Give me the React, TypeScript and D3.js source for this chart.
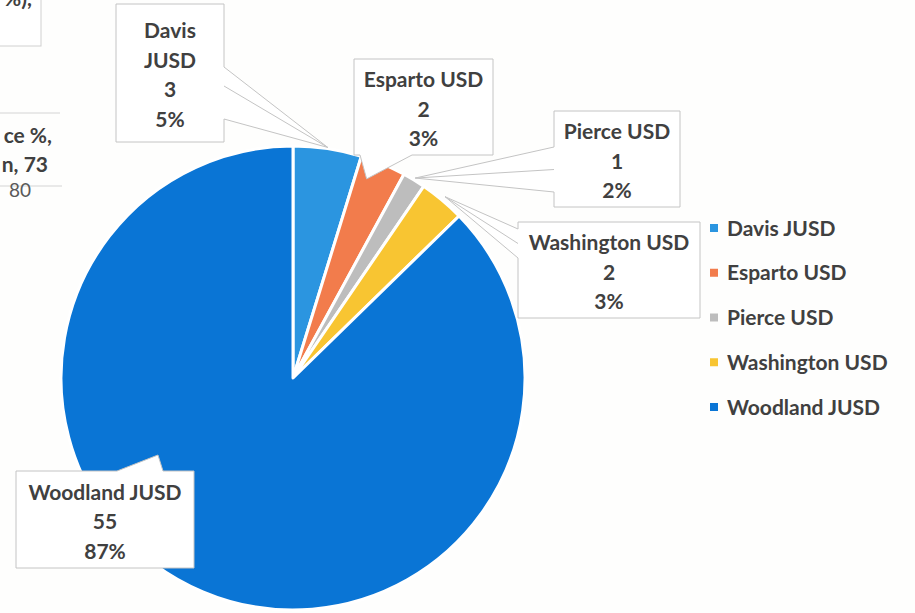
import React from "react";
import * as d3 from "d3";

const districts = ["Davis JUSD", "Esparto USD", "Pierce USD", "Washington USD", "Woodland JUSD"];
const counts = [3, 2, 1, 2, 55];
const sliceColors = ["#2b95e0", "#f27c4c", "#bdbdbd", "#f8c532", "#0a75d5"];

// callout layout: box [x0,y0,x1,y1], wedge side, wedge base [a,b], tip angle offset (deg) & radius factor
type Callout = { box: number[]; side: "left" | "right" | "top" | "bottom"; base: number[]; tipAngle: number | null; tipR: number; wrap: boolean; leader: boolean };
const callouts: Callout[] = [
  { box: [116, 4, 224, 142], side: "right", base: [67, 119], tipAngle: null, tipR: 1.005, wrap: true, leader: true },
  { box: [354, 59, 493, 155], side: "bottom", base: [360, 412], tipAngle: 20.3, tipR: 0.915, wrap: false, leader: false },
  { box: [554, 111, 680, 207], side: "left", base: [147, 192], tipAngle: null, tipR: 1.01, wrap: false, leader: true },
  { box: [518, 222, 700, 318], side: "left", base: [229, 258], tipAngle: null, tipR: 1.02, wrap: false, leader: true },
  { box: [16, 471, 194, 568], side: "top", base: [117, 163], tipAngle: 240.3, tipR: 0.67, wrap: false, leader: false },
];

const W = 915, H = 613;
const cx = 293, cy = 378, R = 232;
const textColor = "#404040";
const font = "Lato, 'Open Sans', sans-serif";

function calloutPath(c: Callout, tip: number[]) {
  const [x0, y0, x1, y1] = c.box;
  const [a, b] = c.base;
  const p = d3.path();
  p.moveTo(x0, y0);
  if (c.side === "top") { p.lineTo(a, y0); p.lineTo(tip[0], tip[1]); p.lineTo(b, y0); }
  p.lineTo(x1, y0);
  if (c.side === "right") { p.lineTo(x1, a); p.lineTo(tip[0], tip[1]); p.lineTo(x1, b); }
  p.lineTo(x1, y1);
  if (c.side === "bottom") { p.lineTo(b, y1); p.lineTo(tip[0], tip[1]); p.lineTo(a, y1); }
  p.lineTo(x0, y1);
  if (c.side === "left") { p.lineTo(x0, b); p.lineTo(tip[0], tip[1]); p.lineTo(x0, a); }
  p.closePath();
  return p.toString();
}

export default function App() {
  const total = d3.sum(counts);
  const pie = d3.pie<number>().sort(null).value((d) => d)(counts);
  const arc = d3.arc<d3.PieArcDatum<number>>().innerRadius(0).outerRadius(R);
  const pct = d3.format(".0%");
  const legendY = d3.scalePoint<string>().domain(districts).range([228, 407]);

  return (
    <svg width={W} height={H} style={{ position: "fixed", left: 0, top: 0, background: "#ffffff" }} fontFamily={font}>
      <rect width={W} height={H} fill="#fefefd" />
      {/* fragments of a neighbouring chart at the left edge */}
      <rect x={-2} y={-2} width={43} height={48} fill="#fff" stroke="#d0d0d0" />
      <text x={32} y={6} textAnchor="end" fontSize={21} fontWeight={700} fill={textColor}>%),</text>
      <line x1={0} x2={60} y1={113} y2={113} stroke="#d4d4d4" />
      <line x1={0} x2={62} y1={186} y2={186} stroke="#d4d4d4" />
      <text x={52} y={143} textAnchor="end" fontSize={21} fontWeight={700} fill={textColor}>ce %,</text>
      <text x={48} y={172} textAnchor="end" fontSize={21} fontWeight={700} fill={textColor}>n, 73</text>
      <text x={20} y={197} textAnchor="middle" fontSize={19} fill="#595959">80</text>

      <g transform={`translate(${cx},${cy})`}>
        {pie.map((s, i) => (
          <path key={i} d={arc(s) || ""} fill={sliceColors[i]} stroke="#ffffff" strokeWidth={3} strokeLinejoin="round" />
        ))}
      </g>

      {pie.map((s, i) => {
        const c = callouts[i];
        const ang = c.tipAngle !== null ? (c.tipAngle * Math.PI) / 180 : (s.startAngle + s.endAngle) / 2;
        const tip = [cx + Math.sin(ang) * R * c.tipR, cy - Math.cos(ang) * R * c.tipR];
        const [x0, y0, x1, y1] = c.box;
        const lines = c.wrap ? [...districts[i].split(" "), String(counts[i]), pct(counts[i] / total)] : [districts[i], String(counts[i]), pct(counts[i] / total)];
        const mid = (y0 + y1) / 2 + 2;
        const step = 29.5;
        const tx = (x0 + x1) / 2;
        const leaderStart = c.side === "right" ? [x1, (c.base[0] + c.base[1]) / 2 - 7] : [x0, (c.base[0] + c.base[1]) / 2];
        return (
          <g key={i}>
            <path d={calloutPath(c, tip)} fill="#ffffff" stroke="#c4c4c4" strokeWidth={1} />
            {c.leader && <line x1={leaderStart[0]} y1={leaderStart[1]} x2={tip[0]} y2={tip[1]} stroke="#c4c4c4" strokeWidth={1} />}
            {lines.map((t, j) => (
              <text key={j} x={tx} y={mid + (j - (lines.length - 1) / 2) * step} dy="0.36em" textAnchor="middle" fontSize={21} fontWeight={700} fill={textColor}>{t}</text>
            ))}
          </g>
        );
      })}

      {districts.map((d, i) => (
        <g key={d} transform={`translate(0,${legendY(d)})`}>
          <rect x={710} y={-4} width={8} height={8} fill={sliceColors[i]} />
          <text x={727} y={0} dy="0.36em" fontSize={21} fontWeight={700} fill={textColor}>{d}</text>
        </g>
      ))}
    </svg>
  );
}
